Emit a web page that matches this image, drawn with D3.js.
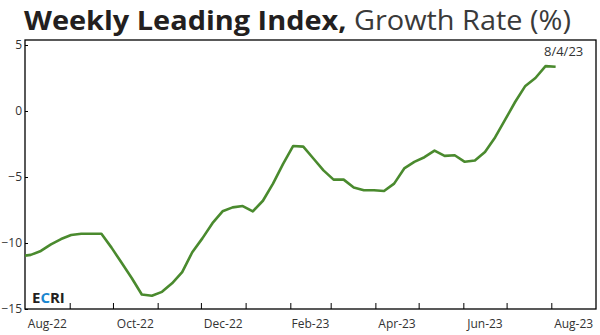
<!DOCTYPE html>
<html><head><meta charset="utf-8">
<script src="https://cdn.jsdelivr.net/npm/d3@7"></script>
<style>body{margin:0;background:#fff}svg{display:block}</style>
</head><body><svg id="c" width="600" height="335"></svg>
<script>
const dates = ["2022-07-29","2022-08-05","2022-08-12","2022-08-19","2022-08-26","2022-09-02","2022-09-09","2022-09-16","2022-09-23","2022-09-30","2022-10-07","2022-10-14","2022-10-21","2022-10-28","2022-11-04","2022-11-11","2022-11-18","2022-11-25","2022-12-02","2022-12-09","2022-12-16","2022-12-23","2022-12-30","2023-01-06","2023-01-13","2023-01-20","2023-01-27","2023-02-03","2023-02-10","2023-02-17","2023-02-24","2023-03-03","2023-03-10","2023-03-17","2023-03-24","2023-03-31","2023-04-07","2023-04-14","2023-04-21","2023-04-28","2023-05-05","2023-05-12","2023-05-19","2023-05-26","2023-06-02","2023-06-09","2023-06-16","2023-06-23","2023-06-30","2023-07-07","2023-07-14","2023-07-21","2023-07-28","2023-08-04"];
const values = [-11.0,-10.9,-10.6,-10.1,-9.7,-9.4,-9.3,-9.3,-9.3,-10.35,-11.5,-12.65,-13.9,-14.0,-13.7,-13.05,-12.2,-10.7,-9.65,-8.5,-7.6,-7.3,-7.2,-7.6,-6.8,-5.5,-4.0,-2.65,-2.7,-3.6,-4.5,-5.2,-5.2,-5.8,-6.0,-6.0,-6.06,-5.5,-4.35,-3.85,-3.5,-3.0,-3.4,-3.35,-3.85,-3.75,-3.1,-2.0,-0.65,0.7,1.9,2.5,3.4,3.35];
const yTicks = [5,0,-5,-10,-15];
const xLabels = ["Aug-22","Oct-22","Dec-22","Feb-23","Apr-23","Jun-23","Aug-23"];
const xLabelMonths = ["2022-08-01","2022-10-01","2022-12-01","2023-02-01","2023-04-01","2023-06-01","2023-08-01"];
const lastLabel = "8/4/23";

const parse = d3.timeParse("%Y-%m-%d");
const svg = d3.select("#c");
const L = 25, R = 596, T = 40, B = 309;
const x = d3.scaleTime().domain([parse("2022-08-01"), parse("2023-09-01")]).range([L, R]);
const y = d3.scaleLinear().domain([-15, 5]).range([B, 45]);

// title
const title = svg.append("text").attr("x", 24).attr("y", 30)
  .attr("font-family", "'Open Sans', sans-serif").attr("font-size", 27)
  .attr("textLength", 547).attr("lengthAdjust", "spacingAndGlyphs");
title.append("tspan").attr("font-weight", 700).attr("fill", "#231f20").text("Weekly Leading Index,");
title.append("tspan").attr("font-weight", 400).attr("fill", "#3a3a3a").text(" Growth Rate (%)");

// clip
svg.append("clipPath").attr("id", "clip").append("rect")
  .attr("x", L).attr("y", T).attr("width", R - L).attr("height", B - T);

// frame
svg.append("rect").attr("x", L).attr("y", T).attr("width", R - L).attr("height", B - T)
  .attr("fill", "none").attr("stroke", "#000").attr("stroke-width", 1.3);

// y axis
const ya = svg.append("g").attr("transform", `translate(${L},0)`)
  .call(d3.axisLeft(y).tickValues(yTicks).tickSize(-3).tickPadding(3).tickFormat(d3.format("d")));
ya.select(".domain").remove();
ya.selectAll("line").attr("stroke", "#000");
ya.selectAll("text").attr("font-family", "'Open Sans', sans-serif").attr("font-size", 12).attr("fill", "#333");

// x axis ticks (months, inside)
const months = d3.timeMonth.range(parse("2022-09-01"), parse("2023-09-01"));
const xa = svg.append("g").attr("transform", `translate(0,${B})`)
  .call(d3.axisBottom(x).tickValues(months).tickSize(-6).tickFormat(""));
xa.select(".domain").remove();
xa.selectAll("line").attr("stroke", "#000");

// x labels centered in month
svg.append("g").selectAll("text").data(xLabels).join("text")
  .attr("x", (d, i) => { const m = parse(xLabelMonths[i]); return (x(m) + x(d3.timeMonth.offset(m, 1))) / 2; })
  .attr("y", 328).attr("text-anchor", "middle")
  .attr("font-family", "'Open Sans', sans-serif").attr("font-size", 12).attr("fill", "#333")
  .text(d => d);

// line
const data = dates.map((d, i) => ({ d: parse(d), v: values[i] }));
svg.append("path").datum(data).attr("clip-path", "url(#clip)")
  .attr("fill", "none").attr("stroke", "#4a8a2e").attr("stroke-width", 2.6).attr("stroke-linejoin", "round")
  .attr("d", d3.line().x(p => x(p.d)).y(p => y(p.v)));

// last label
const last = data[data.length - 1];
svg.append("text").attr("x", x(last.d) + 8).attr("y", 56).attr("text-anchor", "middle")
  .attr("font-family", "'Open Sans', sans-serif").attr("font-size", 13).attr("fill", "#333").text(lastLabel);

// logo
const logo = svg.append("text").attr("x", 32).attr("y", 303)
  .attr("font-family", "'Open Sans', sans-serif").attr("font-weight", 700).attr("font-size", 15).attr("fill", "#231f20");
logo.append("tspan").text("E");
logo.append("tspan").attr("fill", "#1b87d0").text("C");
logo.append("tspan").text("RI");
</script></body></html>
